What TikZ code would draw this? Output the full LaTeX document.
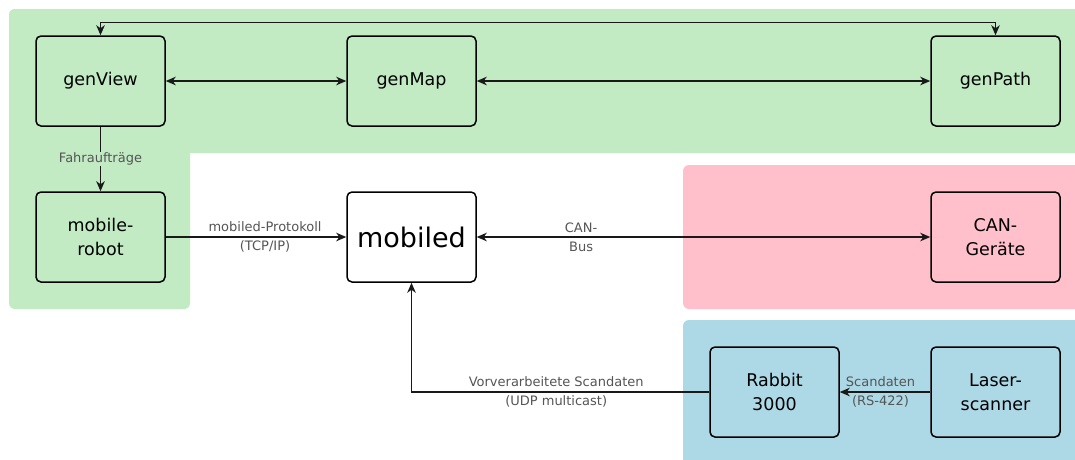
\documentclass[tikz,border=0pt]{standalone}
\usepackage{fontspec}
\setmainfont{DejaVu Sans}
\usetikzlibrary{arrows.meta}
\definecolor{grn}{RGB}{194,235,196}
\definecolor{pnk}{RGB}{255,192,203}
\definecolor{blu}{RGB}{173,216,230}
\definecolor{lblgray}{RGB}{85,85,85}
\definecolor{lncol}{RGB}{25,25,25}
\begin{document}
\begin{tikzpicture}[x=1pt,y=-1pt,
  box/.style={draw=black, line width=1.5pt, rounded corners=5pt, minimum width=129pt, minimum height=90pt, align=center, inner sep=0pt, font=\fontsize{17.5}{24}\selectfont},
  tip/.style={Stealth[length=10pt,width=8.5pt,inset=3pt]},
  conn/.style={draw=lncol, line width=1.3pt, -{Stealth[length=10pt,width=8.5pt,inset=3pt]}},
  biconn/.style={draw=lncol, line width=1.3pt, {Stealth[length=10pt,width=8.5pt,inset=3pt]}-{Stealth[length=10pt,width=8.5pt,inset=3pt]}},
  lbl/.style={font=\fontsize{13}{19}\selectfont, text=lblgray, align=center, inner sep=1pt}]
\useasboundingbox (0,0) rectangle (1075,459);
\clip (0,0) rectangle (1075,459);
\fill[white] (0,0) rectangle (1075,459);
% regions
\fill[grn, rounded corners=6pt] (9,9) rectangle (1090,153);
\fill[grn, rounded corners=6pt] (9,9) rectangle (190,309);
\fill[pnk, rounded corners=6pt] (683,165) rectangle (1090,309);
\fill[blu, rounded corners=6pt] (683,320) rectangle (1090,475);
% nodes
\node[box] (gv) at (100.5,81) {genView};
\node[box] (gm) at (411.5,81) {genMap};
\node[box] (gp) at (995.5,81) {genPath};
\node[box] (mr) at (100.5,237) {mobile-\\robot};
\node[box, fill=white, font=\fontsize{27}{32}\selectfont] (mb) at (411.5,237) {mobiled};
\node[box] (cg) at (995.5,237) {CAN-\\Geräte};
\node[box] (rb) at (774.5,392) {Rabbit\\3000};
\node[box] (ls) at (995.5,392) {Laser-\\scanner};
% connectors
\draw[biconn] (gv.north) -- ++(0,-13) -| (gp.north);
\draw[biconn] (gv.east) -- (gm.west);
\draw[biconn] (gm.east) -- (gp.west);
\draw[conn] (gv.south) -- node[lbl, fill=grn] {Fahraufträge} (mr.north);
\draw[conn] (mr.east) -- node[lbl, pos=0.55] {mobiled-Protokoll\\(TCP/IP)} (mb.west);
\draw[biconn] (mb.east) -- node[lbl, pos=0.23] {CAN-\\Bus} (cg.west);
\draw[conn] (rb.west) -| node[lbl, pos=0.257] {Vorverarbeitete Scandaten\\(UDP multicast)} (mb.south);
\draw[conn] (ls.west) -- node[lbl, pos=0.55] {Scandaten\\(RS-422)} (rb.east);
\end{tikzpicture}
\end{document}
